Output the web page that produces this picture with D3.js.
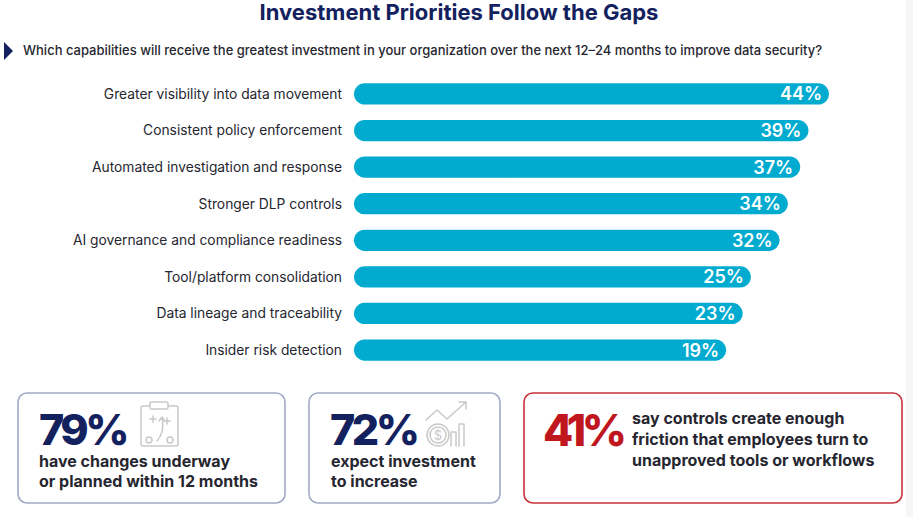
<!DOCTYPE html>
<html lang="en">
<head>
<meta charset="UTF-8">
<title>Investment Priorities Follow the Gaps</title>
<script src="https://cdn.jsdelivr.net/npm/d3@7/dist/d3.min.js"></script>
<style>
    body, html {
        margin: 0;
        padding: 0;
        background: #fff;
    }
    svg {
        display: block;
        font-family: Inter, "Noto Sans", sans-serif;
    }
</style>
</head>
<body>
<svg id="chart"></svg>
<script>
    // data
    const categories = [
        "Greater visibility into data movement",
        "Consistent policy enforcement",
        "Automated investigation and response",
        "Stronger DLP controls",
        "AI governance and compliance readiness",
        "Tool/platform consolidation",
        "Data lineage and traceability",
        "Insider risk detection"
    ];
    const values = [44, 39, 37, 34, 32, 25, 23, 19];

    const statValues = ["79%", "72%", "41%"];
    const statLines = [
        ["have changes underway", "or planned within 12 months"],
        ["expect investment", "to increase"],
        ["say controls create enough", "friction that employees turn to", "unapproved tools or workflows"]
    ];

    const W = 913, H = 517;
    const navy = "#13215e";
    const red = "#c0171f";
    const barColor = "#00abcf";
    const textColor = "#262630";

    const svg = d3.select("#chart").attr("width", W).attr("height", H);

    // faint strip on the right edge
    svg.append("rect").attr("x", 906).attr("y", 0).attr("width", 7).attr("height", H).attr("fill", "#f6f6f6");

    // title
    svg.append("text")
        .attr("x", 459).attr("y", 20)
        .attr("text-anchor", "middle")
        .attr("fill", navy)
        .style("font-size", "22px").style("font-weight", 700)
        .text("Investment Priorities Follow the Gaps");

    // question line
    svg.append("path").attr("d", "M4,42 L13,51 L4,60 Z").attr("fill", navy);
    svg.append("text")
        .attr("x", 23).attr("y", 55)
        .attr("fill", textColor)
        .style("font-size", "13px").style("font-weight", 500)
        .text("Which capabilities will receive the greatest investment in your organization over the next 12\u201324 months to improve data security?");

    // bars
    const barStart = 354;
    const y = d3.scaleBand().domain(categories).range([76, 368]).paddingInner(0.42).paddingOuter(0.2);
    // bars are not proportional to zero; the drawn length has a base offset
    const len = d3.scaleLinear().domain([0, 44]).range([294, 475]);

    const rows = svg.append("g").selectAll("g")
        .data(categories)
        .enter().append("g");

    rows.append("rect")
        .attr("x", barStart)
        .attr("y", d => y(d))
        .attr("width", (d, i) => len(values[i]))
        .attr("height", y.bandwidth())
        .attr("rx", y.bandwidth() / 2)
        .attr("fill", barColor);

    rows.append("text")
        .attr("x", barStart - 12)
        .attr("y", d => y(d) + y.bandwidth() / 2)
        .attr("dy", "0.35em")
        .attr("text-anchor", "end")
        .attr("fill", textColor)
        .style("font-size", "13.8px")
        .text(d => d);

    rows.append("text")
        .attr("x", (d, i) => barStart + len(values[i]) - 7)
        .attr("y", d => y(d) + y.bandwidth() / 2)
        .attr("dy", "0.36em")
        .attr("text-anchor", "end")
        .attr("fill", "#fff")
        .style("font-size", "18px").style("font-weight", 600)
        .text((d, i) => values[i] + "%");

    // stat boxes
    const boxes = [
        {x: 18, w: 267, stroke: "#a2a9c4"},
        {x: 309, w: 191, stroke: "#a2a9c4"},
        {x: 524, w: 378, stroke: "#c8323a"}
    ];
    boxes.forEach(b => {
        svg.append("rect")
            .attr("x", b.x).attr("y", 393)
            .attr("width", b.w).attr("height", 110)
            .attr("rx", 9)
            .attr("fill", "#fff")
            .attr("stroke", b.stroke).attr("stroke-width", 1.6);
    });

    function bigNumber(x, baseline, txt, color, size, ls) {
        svg.append("text").attr("x", x).attr("y", baseline)
            .attr("fill", color).style("font-size", size + "px").style("font-weight", 800)
            .style("letter-spacing", ls + "px")
            .text(txt);
    }
    function lines(x, baseline, arr, step) {
        arr.forEach((t, i) => {
            svg.append("text").attr("x", x).attr("y", baseline + i * step)
                .attr("fill", textColor).style("font-size", "16px").style("font-weight", 700)
                .text(t);
        });
    }

    bigNumber(39, 445, statValues[0], navy, 43, -3.5);
    lines(39, 467, statLines[0], 20);

    bigNumber(330, 445, statValues[1], navy, 43, -3.5);
    lines(331, 467, statLines[1], 20);

    bigNumber(543, 446, statValues[2], red, 44, -4.5);
    lines(632, 424, statLines[2], 21);

    // icons (light grey line art)
    const ic = svg.append("g")
        .attr("fill", "none").attr("stroke", "#c9c9c9").attr("stroke-width", 1.5)
        .attr("stroke-linecap", "round").attr("stroke-linejoin", "round");

    // clipboard with play diagram
    ic.append("rect").attr("x", 141).attr("y", 406).attr("width", 37).attr("height", 40).attr("rx", 2);
    ic.append("rect").attr("x", 150).attr("y", 402).attr("width", 18).attr("height", 7).attr("rx", 1.5).attr("fill", "#fff");
    ic.append("path").attr("d", "M150,419 h6 M153,416 v6 M164,421 h6 M167,418 v6");
    ic.append("path").attr("d", "M157,441 Q165,432 162,418 M159,421 L162,417 L165,421");
    ic.append("circle").attr("cx", 149).attr("cy", 440).attr("r", 3);
    ic.append("circle").attr("cx", 170).attr("cy", 440).attr("r", 3);

    // coin, bars and rising arrow
    ic.append("circle").attr("cx", 438).attr("cy", 435).attr("r", 11);
    ic.append("circle").attr("cx", 438).attr("cy", 435).attr("r", 8);
    svg.append("text").attr("x", 438).attr("y", 440).attr("text-anchor", "middle")
        .attr("fill", "#c9c9c9").style("font-size", "13px").text("$");
    ic.append("path").attr("d", "M451,446 V432 h5 V446 M459,446 V424 h5 V446");
    ic.append("path").attr("d", "M426,420 L437,410 L447,419 L466,402 M459,402 h7 v7");
</script>
</body>
</html>
